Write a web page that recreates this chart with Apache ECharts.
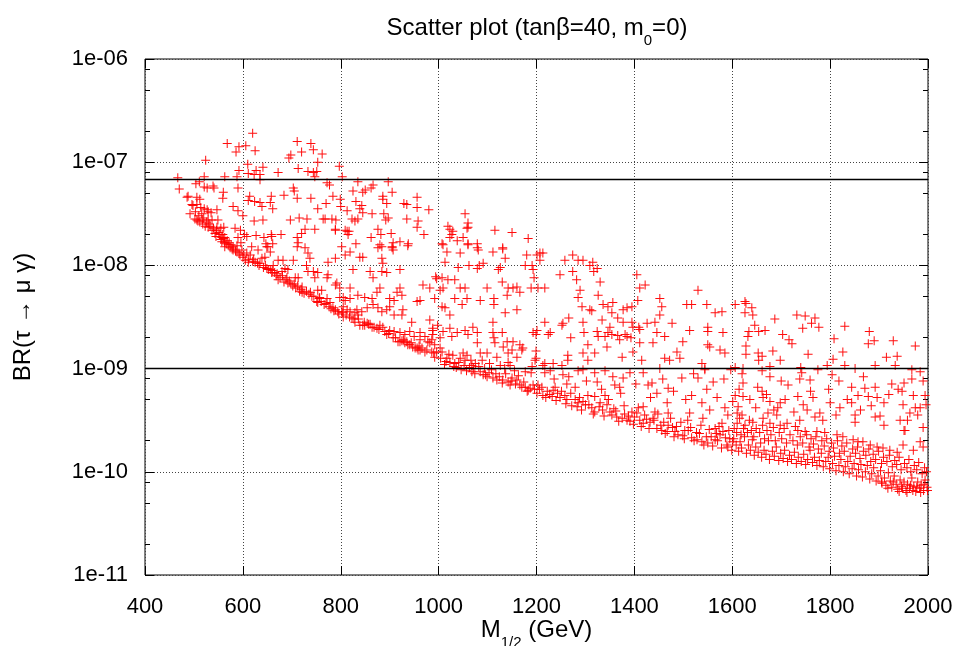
<!DOCTYPE html>
<html>
<head>
<meta charset="utf-8">
<title>Scatter plot</title>
<script src="https://cdn.jsdelivr.net/npm/echarts@6/dist/echarts.min.js"></script>
<style>
  html, body { margin: 0; padding: 0; background: #fff; }
  #main { width: 957px; height: 646px; }
</style>
</head>
<body>
<div id="main"></div>
<script>
// points: [M1/2 in GeV, log10(BR)]
var cloudLeft = [
  [467,-7.15],[470,-7.26],[486,-7.34],[488,-7.33],[504,-7.21],[511,-7.19],[521,-7.14],[521,-7.24],
  [524,-6.98],[527,-7.25],[539,-7.23],[541,-7.25],[560,-7.29],[559,-7.35],[563,-7.14],[568,-6.82],
  [580,-7.43],[586,-6.9],[588,-7.14],[590,-7.25],[592,-6.85],[592,-7.08],[606,-6.84],[610,-7.02],
  [611,-7.11],[611,-7.37],[614,-7.33],[620,-6.72],[623,-7.12],[624,-7.38],[625,-6.89],[627,-7.08],
  [635,-7.12],[635,-7.17],[635,-7.39],[639,-7.43],[641,-7.05],[656,-7.39],[658,-7.33],[661,-7.45],
  [672,-7.1],[684,-7.32],[694,-6.96],[698,-6.93],[703,-7.25],[705,-7.28],[711,-6.8],[711,-7.35],
  [713,-7.06],[720,-6.9],[733,-7.09],[739,-6.82],[739,-7.35],[744,-6.88],[744,-7.1],[747,-7.14],
  [751,-7.09],[753,-7.0],[753,-7.45],[762,-6.92],[770,-7.4],[772,-7.2],[777,-7.22],[784,-7.33],
  [797,-7.04],[799,-7.36],[800,-7.43]
];

var bandLeft = [
  [492,-7.5],[496,-7.41],[498,-7.42],[502,-7.55],[506,-7.41],[506,-7.34],[506,-7.56],[508,-7.57],
  [512,-7.36],[512,-7.58],[514,-7.44],[517,-7.56],[518,-7.6],[521,-7.45],[523,-7.62],[527,-7.46],
  [529,-7.48],[529,-7.56],[529,-7.63],[533,-7.62],[535,-7.49],[537,-7.56],[537,-7.66],[543,-7.69],
  [545,-7.72],[547,-7.46],[547,-7.63],[549,-7.56],[553,-7.7],[555,-7.64],[555,-7.75],[557,-7.73],
  [557,-7.77],[559,-7.7],[561,-7.63],[563,-7.73],[563,-7.78],[563,-7.82],[566,-7.79],[568,-7.76],
  [572,-7.78],[574,-7.83],[576,-7.8],[580,-7.82],[580,-7.85],[584,-7.64],[588,-7.81],[588,-7.87],
  [590,-7.47],[590,-7.73],[594,-7.9],[595,-7.66],[596,-7.78],[598,-7.85],[600,-7.52],[600,-7.92],
  [603,-7.7],[605,-7.95],[608,-7.72],[608,-7.88],[611,-7.97],[615,-7.9],[618,-7.82],[620,-7.96],
  [623,-7.57],[625,-7.97],[627,-7.71],[631,-7.85],[633,-8.0],[635,-7.98],[639,-7.93],[641,-7.56],
  [642,-8.02],[643,-7.73],[645,-7.92],[647,-7.79],[649,-7.82],[649,-8.03],[651,-7.82],[656,-7.87],
  [656,-8.04],[658,-7.7],[659,-7.72],[659,-8.07],[661,-7.79],[662,-8.0],[665,-8.07],[668,-8.1],
  [672,-7.95],[672,-8.14],[676,-8.12],[678,-7.7],[680,-8.06],[682,-7.95],[684,-8.16],[686,-8.03],
  [690,-8.12],[692,-8.04],[692,-8.17],[697,-7.56],[698,-8.18],[702,-8.2],[703,-7.95],[707,-8.12],
  [708,-8.22],[711,-7.73],[711,-7.82],[713,-7.78],[713,-8.12],[715,-7.54],[716,-8.25],[720,-7.69],
  [721,-8.21],[721,-8.26],[725,-8.27],[727,-7.65],[727,-7.83],[730,-8.0],[731,-7.55],[733,-7.88],
  [733,-8.06],[735,-8.28],[737,-7.93],[741,-8.3],[744,-8.06],[747,-7.65],[747,-8.12],[751,-8.35],
  [753,-8.07],[753,-8.24],[753,-8.36],[757,-8.31],[760,-8.35],[761,-8.24],[764,-7.55],[766,-8.38],
  [768,-7.55],[772,-8.12],[772,-8.32],[774,-7.97],[774,-8.09],[778,-8.36],[780,-8.42],[782,-7.55],
  [784,-8.41],[789,-7.65],[789,-7.66],[789,-7.93],[789,-8.19],[789,-8.43],[790,-7.56],[792,-8.17],
  [794,-8.45],[798,-8.31],
  [503,-7.48],[510,-7.52],[516,-7.5],[520,-7.54],[526,-7.58],[531,-7.6],[540,-7.64],[546,-7.66],
  [551,-7.68],[560,-7.74],[570,-7.8],[578,-7.84],[585,-7.86],[592,-7.88],[602,-7.9],[612,-7.94],
  [622,-7.94],[630,-7.98],[646,-8.0],[652,-8.04],[660,-8.05],[670,-8.08],[681,-8.1],[688,-8.14],
  [695,-8.15],[705,-8.18],[712,-8.2],[719,-8.23],[730,-8.25],[738,-8.26],[745,-8.3],[756,-8.32],
  [770,-8.37],[776,-8.4],[786,-8.44],[796,-8.47]
];

var midRange = [
  [803,-7.14],[835,-7.19],[866,-7.22],[862,-7.25],[850,-7.27],[845,-7.29],[897,-7.19],[905,-7.29],
  [825,-7.28],[886,-7.33],[886,-7.36],[831,-7.38],[843,-7.42],[839,-7.45],[845,-7.49],[829,-7.57],
  [835,-7.55],[813,-7.47],[823,-7.55],[813,-7.67],[817,-7.67],[864,-7.5],[888,-7.5],[897,-7.54],
  [892,-7.56],[894,-7.4],[929,-7.4],[935,-7.41],[956,-7.34],[956,-7.44],[980,-7.46],[935,-7.55],
  [958,-7.57],[956,-7.63],[876,-7.65],[882,-7.7],[903,-7.69],[970,-7.7],[862,-7.73],[831,-7.79],
  [921,-7.77],[937,-7.81],[907,-7.78],[905,-7.82],[880,-7.8],[876,-7.83],[815,-7.7],[809,-7.66],
  [1054,-7.5],[1060,-7.59],[1060,-7.63],[1019,-7.62],[1023,-7.65],[1029,-7.67],[1027,-7.7],[1023,-7.73],
  [1038,-7.76],[1050,-7.73],[1058,-7.64],[1115,-7.66],[1150,-7.68],[1183,-7.74],[1009,-7.8],[1060,-7.8],
  [1079,-7.83],[1131,-7.83],
  [802,-7.82],[819,-7.87],[809,-7.9],[839,-7.92],[845,-7.92],[884,-7.82],[905,-7.83],[907,-7.85],
  [938,-7.79],[884,-7.93],[886,-7.98],[825,-8.04],[860,-8.06],[884,-8.06],[894,-8.07],[921,-8.04],
  [866,-8.12],[819,-8.22],[798,-8.22],[805,-8.31],[819,-8.32],[835,-8.29],[849,-8.31],[864,-8.32],
  [874,-8.26],[880,-8.22],[900,-8.32],[909,-8.34],[915,-8.26],[921,-8.22],[925,-8.29],[968,-8.19],
  [982,-8.22],[992,-8.32],[962,-8.34],[956,-8.35],
  [805,-8.4],[813,-8.43],[819,-8.45],[833,-8.43],[843,-8.45],[854,-8.41],[866,-8.38],[876,-8.41],
  [884,-8.45],[894,-8.43],[900,-8.4],[909,-8.48],[925,-8.48],[927,-8.43],[829,-8.55],[839,-8.58],
  [849,-8.58],[864,-8.6],[874,-8.61],[886,-8.6],[900,-8.63],[909,-8.64],[921,-8.65],[931,-8.67],
  [941,-8.64],[945,-8.55],[950,-8.69],[962,-8.65],[962,-8.72],[972,-8.69],[978,-8.74],[988,-8.67],
  [986,-8.72],[935,-8.74],[941,-8.77],[947,-8.79],[956,-8.8],[962,-8.82],[921,-8.74],[992,-8.77],
  [996,-8.84],[1003,-8.8],
  [809,-8.34],[802,-8.45],[805,-8.5],[823,-8.51],[829,-8.46],[835,-8.48],[845,-8.58],[854,-8.56],
  [860,-8.57],[880,-8.58],[894,-8.67],[907,-8.7],[917,-8.74],[925,-8.73],[931,-8.75],[937,-8.77],
  [952,-8.8],[958,-8.82],[966,-8.8],[972,-8.84],[982,-8.75],[986,-8.84],[988,-8.63],
  [804,-8.46],[811,-8.48],[818,-8.5],[827,-8.52],[836,-8.52],[848,-8.55],[857,-8.57],[868,-8.6],
  [878,-8.62],[890,-8.64],[898,-8.66],[912,-8.7],[928,-8.72],[944,-8.75],[960,-8.78],[976,-8.82],
  [990,-8.85],
  [1007,-7.79],[1017,-7.87],[1044,-7.88],[1060,-7.79],[1079,-7.79],[1081,-7.85],[1111,-7.87],[1131,-7.84],
  [1136,-7.93],[1180,-7.9],[1201,-7.9],[1013,-7.97],[1040,-8.02],[1062,-8.0],[1079,-8.03],[1083,-8.0],
  [1091,-7.98],[1122,-8.04],[1126,-8.02],[1177,-8.0],[1191,-8.0],[1193,-8.04],[994,-8.11],[996,-8.13],
  [1007,-8.12],[1019,-8.14],[1033,-8.14],[1003,-8.24],[1009,-8.22],[1044,-8.22],[1054,-8.22],[1058,-8.32],
  [1099,-8.22],[1113,-8.32],[1130,-8.16],[1142,-8.22],[1152,-8.22],[1160,-8.21],[1166,-8.26],[1189,-8.22],
  [1195,-8.12],[1140,-8.29],
  [1007,-8.4],[1013,-8.41],[1023,-8.48],[1033,-8.32],[1048,-8.38],[1085,-8.34],[1113,-8.38],[1136,-8.46],
  [1160,-8.43],[982,-8.53],[988,-8.61],[998,-8.58],[1009,-8.64],[1023,-8.61],[1027,-8.69],[1038,-8.65],
  [1054,-8.63],[1060,-8.67],[1070,-8.6],[1079,-8.65],[1079,-8.75],[1111,-8.55],[1111,-8.65],[1113,-8.7],
  [1115,-8.75],[1130,-8.65],[1132,-8.79],[1140,-8.74],[1150,-8.82],[1152,-8.74],[1166,-8.77],[1172,-8.8],
  [1193,-8.65],[1197,-8.92],[1003,-8.7],[992,-8.89],[1007,-8.84],[1017,-8.9],[1023,-8.94],[1029,-8.87],
  [1033,-8.95],[1044,-8.9],[1050,-8.85],[1054,-8.92],[1058,-8.87],[1068,-8.97],[1075,-8.95],[1085,-8.85],
  [1089,-8.92],[1099,-8.85],[1119,-8.89],[1126,-8.97],[1142,-8.85],[1142,-8.94],[1146,-8.97],[1160,-8.89],
  [1170,-8.82],[1191,-8.98],
  [1068,-9.03],[1085,-9.03],[1091,-9.06],[1099,-9.08],[1103,-9.04],[1111,-9.09],[1119,-9.11],[1131,-9.11],
  [1142,-9.13],[1150,-9.09],[1160,-9.11],[1166,-9.16],[1177,-9.18],[1187,-9.19],[1193,-9.16],[1201,-9.24],
  [1177,-9.03],[1189,-9.04],[1146,-9.16],[1130,-9.14],[1170,-9.18],[1183,-9.21],
  [1012,-8.96],[1036,-8.99],[1046,-9.01],[1057,-9.02],[1063,-8.99],[1074,-9.05],[1094,-9.0],[1108,-9.01],
  [1137,-9.05],[1155,-9.02],
  [1004,-8.9],[1015,-8.93],[1021,-8.86],[1031,-8.98],[1041,-8.94],[1052,-8.97],[1066,-8.92],[1071,-9.0],
  [1082,-8.98],[1096,-9.06],[1104,-8.95],[1117,-9.05],[1124,-9.08],[1135,-9.0],[1148,-9.12],[1157,-9.15],
  [1163,-9.07],[1174,-9.13],[1181,-9.22],[1196,-9.2]
];

var rightRange = [
  [1207,-7.88],[1213,-7.88],[1207,-7.95],[1258,-7.95],[1274,-7.9],[1285,-7.95],[1295,-7.95],[1315,-7.97],
  [1309,-8.0],[1324,-8.03],[1317,-8.06],[1248,-8.09],[1274,-8.06],[1282,-8.14],[1330,-8.16],[1203,-8.22],
  [1217,-8.22],[1289,-8.24],[1285,-8.31],[1326,-8.29],[1293,-8.4],[1309,-8.43],[1336,-8.38],[1346,-8.4],
  [1356,-8.36],[1377,-8.43],[1385,-8.41],[1395,-8.4],[1354,-8.46],[1313,-8.44],[1266,-8.51],[1252,-8.58],
  [1254,-8.56],[1217,-8.55],[1295,-8.55],[1334,-8.53],[1366,-8.51],[1377,-8.55],[1395,-8.55],[1350,-8.6],
  [1201,-8.63],[1199,-8.67],[1228,-8.65],[1224,-8.67],[1270,-8.7],[1297,-8.65],[1324,-8.64],[1326,-8.69],
  [1340,-8.69],[1346,-8.65],[1354,-8.67],[1366,-8.68],[1381,-8.67],[1385,-8.69],[1370,-8.72],[1393,-8.7],
  [1397,-8.6],[1305,-8.77],[1344,-8.79],[1295,-8.85],[1319,-8.85],[1375,-8.89],[1264,-8.87],[1264,-8.92],
  [1252,-8.97],[1234,-8.95],[1217,-8.95],[1213,-8.97],[1305,-8.92],[1199,-8.83],[1199,-8.9],
  [1405,-8.09],[1411,-8.22],[1422,-8.19],[1407,-8.34],[1452,-8.32],[1456,-8.4],[1452,-8.48],[1442,-8.55],
  [1426,-8.56],[1409,-8.6],[1411,-8.62],[1477,-8.56],[1507,-8.38],[1517,-8.38],[1530,-8.24],[1548,-8.38],
  [1565,-8.46],[1579,-8.45],[1513,-8.63],[1550,-8.6],[1550,-8.64],[1581,-8.65],[1446,-8.65],[1462,-8.69],
  [1438,-8.75],[1411,-8.75],[1397,-8.84],[1415,-8.92],[1462,-8.9],[1472,-8.92],[1487,-8.84],[1493,-8.9],
  [1499,-8.74],[1550,-8.77],[1554,-8.79],[1575,-8.82],[1585,-8.85],[1538,-8.95],[1544,-9.0],[1452,-9.0],
  [1217,-9.04],[1228,-9.02],[1254,-9.06],[1266,-9.08],[1285,-9.02],[1295,-9.01],[1319,-9.04],[1324,-9.13],
  [1340,-9.02],[1356,-9.08],[1377,-9.09],[1360,-9.16],[1370,-9.18],[1391,-9.04],[1418,-9.04],[1428,-9.16],
  [1436,-9.14],[1446,-9.24],[1469,-9.19],[1497,-9.09],[1530,-9.09],[1561,-9.13],[1544,-9.01],[1597,-9.01],
  [1203,-9.16],[1211,-9.18],[1213,-9.26],[1232,-9.27],[1234,-9.21],[1248,-9.28],[1258,-9.26],[1262,-9.3],
  [1270,-9.24],[1279,-9.3],[1285,-9.33],[1283,-9.37],[1295,-9.32],[1313,-9.38],[1319,-9.42],[1330,-9.33],
  [1344,-9.35],[1350,-9.42],[1354,-9.45],[1364,-9.47],[1375,-9.48],[1385,-9.5],[1391,-9.51],[1395,-9.42],
  [1405,-9.43],[1411,-9.5],[1418,-9.53],[1432,-9.52],[1438,-9.48],[1446,-9.58],[1456,-9.6],[1467,-9.61],
  [1469,-9.55],[1483,-9.61],[1489,-9.64],[1499,-9.65],[1503,-9.6],[1517,-9.67],[1528,-9.69],[1538,-9.71],
  [1550,-9.72],[1565,-9.69],[1575,-9.64],[1581,-9.61],[1589,-9.74],[1591,-9.76],[1599,-9.79],[1601,-9.71],
  [1238,-9.18],[1279,-9.18],[1517,-9.26],[1538,-9.33],[1513,-9.43],[1540,-9.48],[1554,-9.4],[1585,-9.38],
  [1591,-9.45],[1579,-9.53],[1565,-9.58],[1467,-9.33],[1469,-9.43],[1442,-9.42],[1418,-9.37],[1319,-9.27],
  [1340,-9.26],[1305,-9.26],
  [1222,-9.22],[1243,-9.24],[1300,-9.35],[1335,-9.4],[1358,-9.39],[1380,-9.44],[1400,-9.47],[1425,-9.49],
  [1460,-9.52],[1478,-9.57],[1510,-9.6],[1533,-9.63],[1557,-9.66],[1570,-9.7],[1595,-9.68],
  [1206,-9.2],[1219,-9.28],[1227,-9.25],[1240,-9.31],[1251,-9.22],[1260,-9.34],[1272,-9.36],[1288,-9.28],
  [1292,-9.4],[1307,-9.35],[1316,-9.44],[1328,-9.37],[1338,-9.46],[1347,-9.3],[1362,-9.41],[1368,-9.51],
  [1379,-9.36],[1388,-9.46],[1398,-9.54],[1408,-9.38],[1414,-9.56],[1421,-9.45],[1430,-9.58],[1440,-9.5],
  [1448,-9.44],[1454,-9.55],[1463,-9.63],[1474,-9.48],[1481,-9.66],[1486,-9.56],[1495,-9.52],[1502,-9.68],
  [1509,-9.5],[1515,-9.57],[1522,-9.7],[1527,-9.62],[1536,-9.55],[1542,-9.74],[1547,-9.66],[1553,-9.59],
  [1560,-9.75],[1568,-9.63],[1573,-9.56],[1578,-9.77],[1586,-9.67],[1593,-9.6],
  [1236,-9.1],[1262,-9.15],[1302,-9.12],[1333,-9.2],[1372,-9.24],[1403,-9.15],[1433,-9.28],[1458,-9.1],
  [1480,-9.22],[1505,-9.3],[1521,-9.05],[1548,-9.2],[1569,-9.28],[1583,-9.1]
];

var farRight = [
  [1606,-8.38],[1626,-8.35],[1628,-8.37],[1640,-8.41],[1626,-8.46],[1642,-8.48],[1687,-8.52],[1732,-8.48],
  [1749,-8.49],[1769,-8.51],[1762,-8.56],[1777,-8.6],[1646,-8.58],[1634,-8.64],[1632,-8.69],[1654,-8.64],
  [1667,-8.63],[1703,-8.67],[1716,-8.72],[1722,-8.76],[1744,-8.61],[1830,-8.59],[1880,-8.64],[1808,-8.71],
  [1628,-8.78],[1878,-8.76],[1890,-8.73],[1929,-8.73],[1974,-8.78],[1683,-8.83],[1628,-8.86],[1653,-8.85],
  [1661,-8.88],[1654,-8.92],[1755,-8.86],[1826,-8.84],[1915,-8.89],[1937,-8.88],[1698,-8.92],[1806,-8.91],
  [1830,-8.97],[1892,-8.97],[1933,-8.97],[1794,-8.97],[1677,-8.98],[1740,-8.99],[1622,-9.0],[1606,-8.99],
  [1661,-9.02],[1677,-9.08],[1742,-9.04],[1759,-9.11],[1775,-9.01],[1804,-9.06],[1851,-9.0],[1967,-9.01],
  [1984,-9.03],[1622,-9.14],[1714,-9.16],[1738,-9.1],[1951,-9.14],[1967,-9.1],[1844,-9.18],[1871,-9.19],
  [1892,-9.18],[1939,-9.2],[1652,-9.18],[1661,-9.22],[1606,-9.26],[1622,-9.27],[1663,-9.28],[1734,-9.27],
  [1857,-9.26],[1878,-9.27],[1896,-9.28],[1947,-9.22],[1970,-9.26],[1994,-9.26],[1677,-9.32],[1698,-9.33],
  [1693,-9.38],[1753,-9.4],[1800,-9.33],[1820,-9.38],[1844,-9.33],[1851,-9.45],[1910,-9.33],[1949,-9.35],
  [1974,-9.38],[1984,-9.38],[1601,-9.32],[1612,-9.37],[1610,-9.43],[1620,-9.45],[1663,-9.48],[1673,-9.43],
  [1691,-9.45],[1738,-9.5],[1769,-9.47],[1779,-9.43],[1851,-9.52],[1892,-9.47],[1910,-9.55],[1943,-9.5],
  [1963,-9.43],[1990,-9.57],[1951,-9.6],[1953,-9.6],[1610,-9.53],[1626,-9.55],[1642,-9.52],[1677,-9.53],
  [1698,-9.55],[1712,-9.53],[1734,-9.6],[1749,-9.61],[1773,-9.61],[1789,-9.62],[1814,-9.64],[1826,-9.66],
  [1847,-9.69],[1857,-9.71],[1867,-9.71],[1882,-9.74],[1896,-9.76],[1908,-9.77],[1922,-9.79],[1937,-9.81],
  [1949,-9.74],[1970,-9.79],[1984,-9.71],[1990,-9.76],
  [1603,-9.68],[1608,-9.74],[1613,-9.8],[1616,-9.71],[1619,-9.77],[1625,-9.66],[1629,-9.82],[1633,-9.74],
  [1637,-9.79],[1641,-9.69],[1645,-9.84],[1648,-9.76],[1653,-9.81],[1658,-9.72],[1660,-9.86],[1665,-9.79],
  [1669,-9.83],[1674,-9.7],[1676,-9.88],[1682,-9.8],[1686,-9.85],[1690,-9.76],[1695,-9.89],[1699,-9.82],
  [1704,-9.87],[1707,-9.79],[1713,-9.9],[1717,-9.84],[1721,-9.88],[1727,-9.81],[1731,-9.92],[1735,-9.86],
  [1741,-9.9],[1746,-9.83],[1750,-9.93],[1754,-9.88],[1759,-9.79],[1764,-9.91],[1768,-9.86],[1773,-9.94],
  [1778,-9.89],[1782,-9.82],[1786,-9.95],[1791,-9.9],[1796,-9.86],[1799,-9.97],[1805,-9.92],[1809,-9.85],
  [1812,-9.99],[1818,-9.94],[1822,-9.88],[1827,-10.0],[1831,-9.95],[1836,-9.9],[1839,-10.02],[1845,-9.97],
  [1849,-9.92],[1854,-10.04],[1858,-9.98],[1863,-9.93],[1866,-10.05],[1872,-10.0],[1876,-9.94],[1881,-10.07],
  [1885,-10.02],[1889,-9.96],[1894,-10.09],[1898,-10.04],[1903,-9.99],[1906,-10.11],[1911,-10.06],[1914,-10.13],
  [1919,-10.01],[1923,-10.09],[1926,-10.15],[1931,-10.04],[1935,-10.12],[1938,-10.17],[1943,-10.08],[1946,-10.14],
  [1951,-10.1],[1955,-10.18],[1958,-10.12],[1962,-10.16],[1967,-10.06],[1971,-10.14],[1975,-10.19],[1979,-10.1],
  [1983,-10.16],[1986,-10.13],[1991,-10.18],[1994,-10.08],[1998,-10.15],
  [1604,-9.58],[1609,-9.62],[1615,-9.48],[1618,-9.64],[1623,-9.58],[1631,-9.62],[1635,-9.5],[1639,-9.6],
  [1644,-9.66],[1649,-9.58],[1656,-9.62],[1662,-9.55],[1666,-9.68],[1671,-9.6],[1679,-9.64],[1684,-9.57],
  [1688,-9.7],[1696,-9.62],[1701,-9.68],[1706,-9.58],[1711,-9.72],[1718,-9.64],[1724,-9.7],[1729,-9.56],
  [1733,-9.74],[1739,-9.66],[1744,-9.72],[1752,-9.64],[1757,-9.76],[1761,-9.68],[1766,-9.73],[1771,-9.66],
  [1776,-9.78],[1783,-9.7],[1788,-9.75],[1793,-9.68],[1798,-9.8],[1803,-9.72],[1807,-9.77],[1815,-9.7],
  [1819,-9.82],[1824,-9.75],[1829,-9.8],[1834,-9.72],[1841,-9.85],[1846,-9.78],[1852,-9.82],[1856,-9.76],
  [1861,-9.87],[1868,-9.8],[1873,-9.84],[1879,-9.78],[1883,-9.9],[1888,-9.83],[1893,-9.88],[1899,-9.8],
  [1905,-9.92],[1909,-9.86],[1916,-9.9],[1921,-9.84],[1927,-9.95],[1932,-9.89],[1936,-9.93],[1941,-9.86],
  [1945,-9.98],[1952,-9.92],[1957,-9.96],[1961,-9.88],[1965,-10.0],[1972,-9.94],[1977,-9.98],[1981,-9.91],
  [1988,-10.02],[1993,-9.96],[1997,-10.0],
  [1614,-9.2],[1636,-9.3],[1648,-9.38],[1670,-9.25],[1685,-9.4],[1708,-9.3],[1726,-9.42],[1745,-9.35],
  [1765,-9.28],[1785,-9.5],[1797,-9.2],[1812,-9.45],[1835,-9.3],[1862,-9.4],[1884,-9.36],[1902,-9.46],
  [1920,-9.25],[1958,-9.5],[1979,-9.45],[1996,-9.35],[1620,-9.05],[1700,-9.12],[1760,-9.22],[1818,-9.12],
  [1868,-9.08],[1926,-9.15],[1990,-9.12],
  [1905,-10.1],[1918,-10.16],[1929,-10.1],[1941,-10.19],[1948,-10.16],[1957,-10.2],[1964,-10.13],[1969,-10.18],
  [1977,-10.15],[1985,-10.2],[1992,-10.12],[1999,-10.18]
];

// experimental limits drawn as horizontal lines
var limits = [6.8e-8, 1e-9];

// x range and minor ticks on the log axis (2, 5, 8 per decade)
var xRange = [400, 2000];
var yMinorTicks = [
  2e-11, 5e-11, 8e-11, 2e-10, 5e-10, 8e-10, 2e-9, 5e-9, 8e-9,
  2e-8, 5e-8, 8e-8, 2e-7, 5e-7, 8e-7
];

var points = [].concat(cloudLeft, bandLeft, midRange, rightRange, farRight).map(function (p) {
  return [p[0], Math.pow(10, p[1])];
});

var FONT = "'Liberation Sans', Arial, Helvetica, sans-serif";
var FS = 22;      // tick labels
var FS_T = 24;    // title and axis names
var plus = 'path://M4,0L5,0L5,4L9,4L9,5L5,5L5,9L4,9L4,5L0,5L0,4L4,4Z';

function expLabel(v) {
  var e = Math.round(Math.log(v) / Math.LN10);
  var a = Math.abs(e);
  return '1e' + (e < 0 ? '-' : '+') + (a < 10 ? '0' + a : a);
}

var subStyle = { fontSize: 15, fontFamily: FONT, color: '#000', verticalAlign: 'bottom', padding: [0, 0, -8, 0] };

function logAxis(pos, major) {
  return {
    type: 'log', logBase: 10, min: 1e-11, max: 1e-6, position: pos,
    axisLine: { show: false },
    axisTick: major
      ? { show: true, inside: true, length: 9, lineStyle: { color: '#000', width: 1 } }
      : { show: true, inside: true, length: 5, customValues: yMinorTicks, lineStyle: { color: '#000', width: 1 } },
    axisLabel: { show: false },
    splitLine: { show: false }
  };
}

var limitSeries = limits.map(function (v) {
  return {
    type: 'line',
    silent: true,
    symbol: 'none',
    lineStyle: { color: '#000', width: 1.5 },
    z: 3,
    data: [[xRange[0], v], [xRange[1], v]]
  };
});

var myChart = echarts.init(document.getElementById('main'));

var option = {
  animation: false,
  backgroundColor: '#fff',
  title: {
    text: 'Scatter plot (tan\u03b2=40, m{sub|0}=0)',
    left: 537,
    top: 16,
    padding: 0,
    textAlign: 'center',
    textStyle: {
      fontSize: FS_T, fontWeight: 'normal', fontFamily: FONT, color: '#000',
      rich: { sub: subStyle }
    }
  },
  grid: {
    left: 145, right: 29, top: 59, bottom: 71,
    outerBoundsMode: 'none',
    show: true, borderColor: '#000', borderWidth: 1
  },
  xAxis: [{
    type: 'value', min: xRange[0], max: xRange[1], interval: 200, position: 'bottom',
    axisLine: { show: false },
    axisTick: { inside: true, length: 9, lineStyle: { color: '#000' } },
    axisLabel: {
      color: '#000', fontSize: FS, fontFamily: FONT, margin: 21,
      formatter: function (v) { return String(v); }
    },
    splitLine: { show: true, lineStyle: { color: '#444', type: [1, 2], width: 1 } },
    name: 'M{sub|1/2} (GeV)',
    nameLocation: 'middle',
    nameGap: 43,
    nameMoveOverlap: false,
    nameTextStyle: { color: '#000', fontSize: FS_T, fontFamily: FONT, rich: { sub: subStyle } }
  }, {
    type: 'value', min: xRange[0], max: xRange[1], interval: 200, position: 'top',
    axisLine: { show: false },
    axisTick: { inside: true, length: 9, lineStyle: { color: '#000' } },
    axisLabel: { show: false },
    splitLine: { show: false }
  }],
  yAxis: [
    (function () {
      var a = logAxis('left', true);
      a.axisLabel = { show: true, color: '#000', fontSize: FS, fontFamily: FONT, margin: 17, formatter: expLabel };
      a.splitLine = { show: true, lineStyle: { color: '#444', type: [1, 2], width: 1 } };
      a.name = 'BR(\u03c4 \u2192 \u03bc \u03b3)';
      a.nameLocation = 'middle';
      a.nameRotate = 90;
      a.nameGap = 110;
      a.nameMoveOverlap = false;
      a.nameTextStyle = { color: '#000', fontSize: FS_T, fontFamily: FONT };
      return a;
    })(),
    logAxis('right', true),
    logAxis('left', false),
    logAxis('right', false)
  ],
  series: [{
    type: 'scatter',
    xAxisIndex: 0,
    yAxisIndex: 0,
    symbol: plus,
    symbolSize: 9,
    itemStyle: { color: '#ff0000', opacity: 0.95 },
    data: points
  }].concat(limitSeries)
};

myChart.setOption(option);
</script>
</body>
</html>
